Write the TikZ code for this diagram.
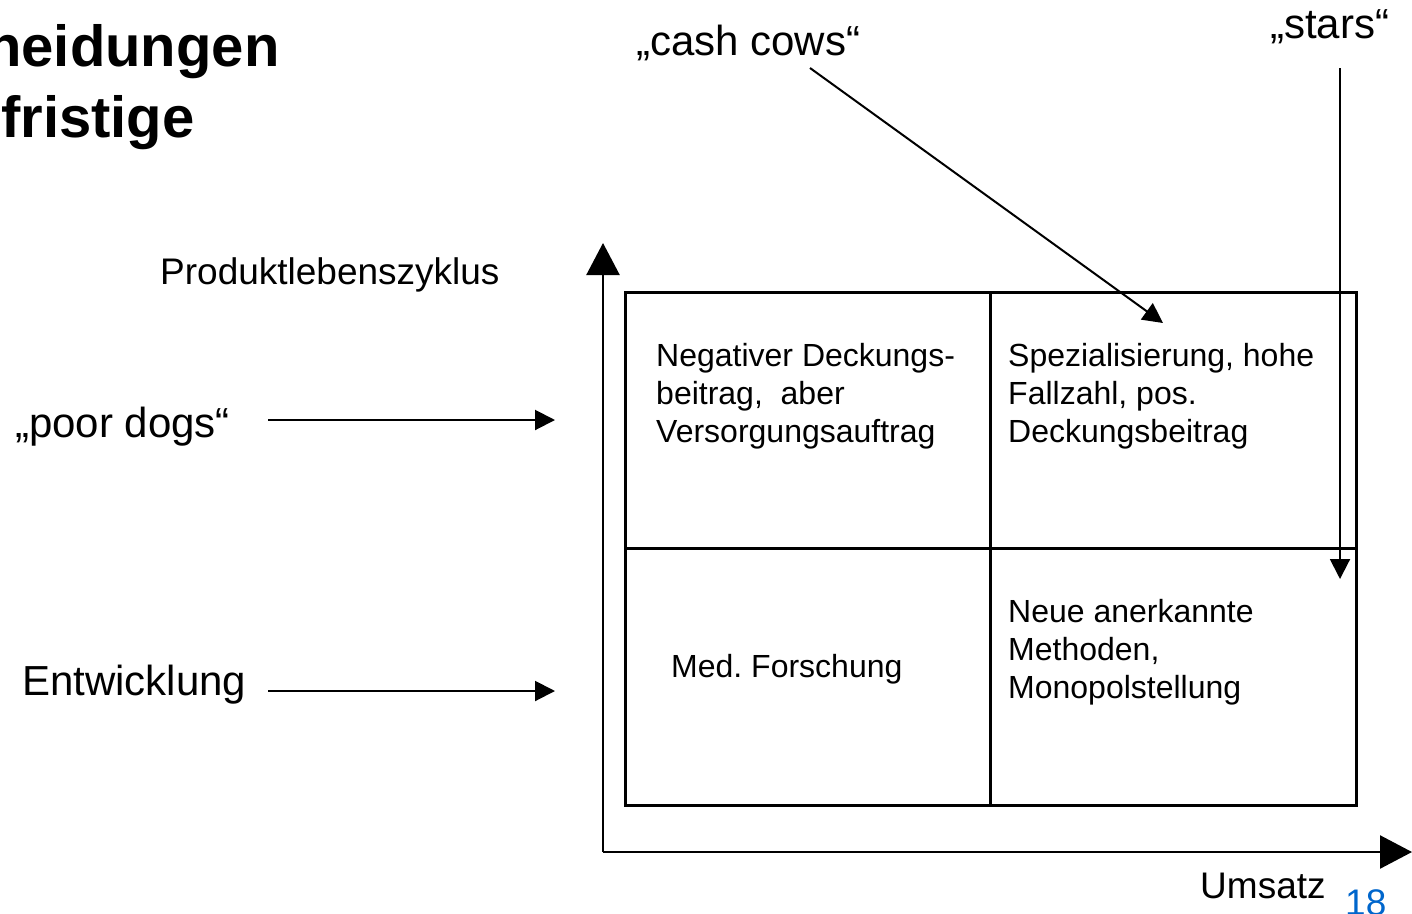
\documentclass[tikz,border=0pt]{standalone}
\usepackage{fontspec}
\setmainfont{Liberation Sans}
\usetikzlibrary{arrows.meta}
\definecolor{pagenum}{RGB}{0,102,204}
\frenchspacing
\begin{document}
\begin{tikzpicture}[x=1pt,y=-1pt,
  lbl/.style={anchor=base west,inner sep=0pt,font=\fontsize{42}{48}\selectfont},
  mid/.style={anchor=base west,inner sep=0pt,font=\fontsize{37}{44}\selectfont},
  cell/.style={anchor=base west,inner sep=0pt,align=left,font=\fontsize{32}{38}\selectfont},
  ttl/.style={anchor=base west,inner sep=0pt,font=\fontsize{58}{70}\selectfont\bfseries},
  axis/.style={line width=2.4pt,-{Triangle[length=32pt,width=33pt]}},
  ptr/.style={line width=2pt,-{Triangle[length=20pt,width=20pt]}},
  grid/.style={line width=3pt}]
\useasboundingbox (0,0) rectangle (1412,913);
% title fragments
\node[ttl] (t1) at (-14,66) {heidungen};
\node[ttl] (t2) at (1,137) {fristige};
% labels
\node[mid] (plz) at (160,284) {Produktlebenszyklus};
\node[lbl] (cc) at (636,55) {„cash cows“};
\node[lbl] (st) at (1270,38) {„stars“};
\node[lbl] (pd) at (15,437) {„poor dogs“};
\node[lbl] (ew) at (22,695) {Entwicklung};
\node[mid] (um) at (1200,898) {Umsatz};
\node[mid,text=pagenum] (pg) at (1345,915) {18};
% axes
\coordinate (o) at (603,852);
\coordinate (ytip) at (603,243);
\coordinate (xtip) at (1412,852);
\draw[axis] (o) -- (ytip);
\draw[axis] (o) -- (xtip);
% grid
\draw[grid] (625,292) rectangle (1356,805);
\draw[grid] (990,292) -- (990,805);
\draw[grid] (625,548) -- (1356,548);
% cell texts (base anchor = last line)
\node[cell] (c1) at (656,442) {Negativer Deckungs-\\beitrag,\ \ aber\\Versorgungsauftrag};
\node[cell] (c2) at (1008,442) {Spezialisierung, hohe\\Fallzahl, pos.\\Deckungsbeitrag};
\node[cell] (c3) at (671,677) {Med. Forschung};
\node[cell] (c4) at (1008,698) {Neue anerkannte\\Methoden,\\Monopolstellung};
% pointers
\coordinate (ccs) at (810,68);
\coordinate (cce) at (1163,323);
\coordinate (sts) at (1340,68);
\coordinate (ste) at (1340,579);
\coordinate (pds) at (268,420);
\coordinate (pde) at (555,420);
\coordinate (ews) at (268,691);
\coordinate (ewe) at (555,691);
\draw[ptr] (ccs) -- (cce);
\draw[ptr] (sts) -- (ste);
\draw[ptr] (pds) -- (pde);
\draw[ptr] (ews) -- (ewe);
\end{tikzpicture}
\end{document}
